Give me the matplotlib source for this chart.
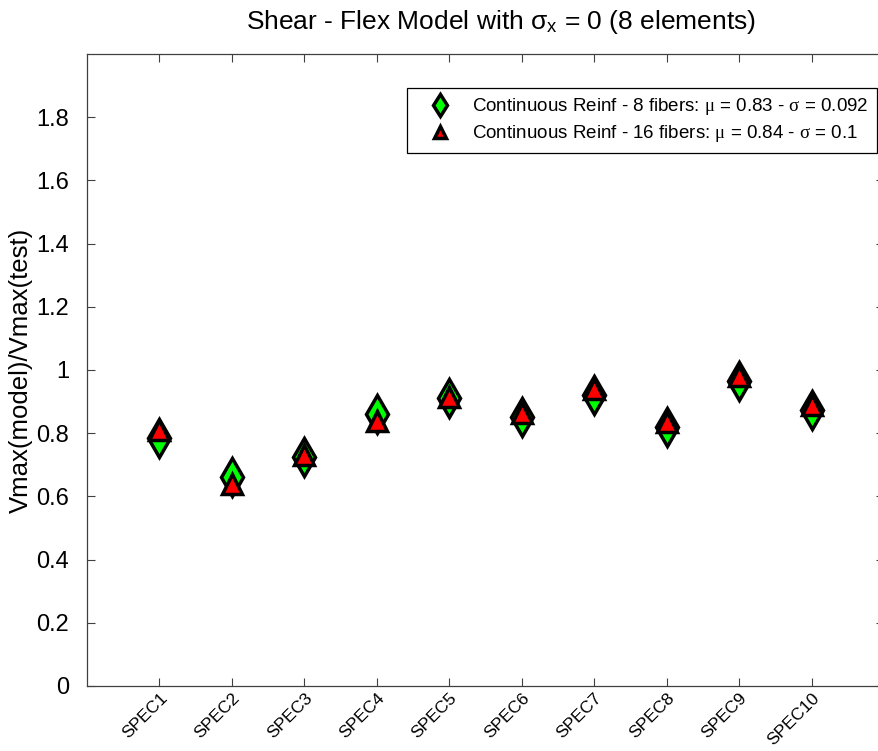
import matplotlib
matplotlib.use("Agg")
import matplotlib.pyplot as plt

plt.rcParams['font.family'] = ['Liberation Sans', 'DejaVu Sans']
plt.rcParams['mathtext.fontset'] = 'custom'
plt.rcParams['mathtext.rm'] = 'Liberation Sans'
plt.rcParams['mathtext.it'] = 'Liberation Serif'

# data
specimens = ['SPEC1', 'SPEC2', 'SPEC3', 'SPEC4', 'SPEC5',
             'SPEC6', 'SPEC7', 'SPEC8', 'SPEC9', 'SPEC10']
ratio_8f = [0.785, 0.66, 0.725, 0.86, 0.91, 0.85, 0.92, 0.82, 0.965, 0.875]
ratio_16f = [0.81, 0.64, 0.73, 0.84, 0.915, 0.865, 0.94, 0.835, 0.98, 0.89]
label_8f = 'Continuous Reinf - 8 fibers: $\\mu$ = 0.83 - $\\sigma$ = 0.092'
label_16f = 'Continuous Reinf - 16 fibers: $\\mu$ = 0.84 - $\\sigma$ = 0.1'
yticks = [0, 0.2, 0.4, 0.6, 0.8, 1, 1.2, 1.4, 1.6, 1.8]
ytick_labels = ['0', '0.2', '0.4', '0.6', '0.8', '1', '1.2', '1.4', '1.6', '1.8']

W, H = 879, 751
fig = plt.figure(figsize=(W / 100, H / 100), dpi=100)
ax = fig.add_axes([87 / W, 65 / H, (884 - 87) / W, (686 - 54) / H])

x = list(range(1, len(specimens) + 1))
ax.plot(x, ratio_8f, linestyle='none', marker='d', markersize=19,
        markerfacecolor=(0, 1, 0), markeredgecolor='k', markeredgewidth=2.5,
        label=label_8f)
ax.plot(x, ratio_16f, linestyle='none', marker='^', markersize=15,
        markerfacecolor=(1, 0, 0), markeredgecolor='k', markeredgewidth=2.5,
        label=label_16f)

ax.set_xlim(0, 11)
ax.set_ylim(0, 2)
ax.set_yticks(yticks)
ax.set_yticklabels(ytick_labels, fontsize=17)
ax.set_xticks(x)
ax.set_xticklabels(specimens, fontsize=12.5, rotation=45, ha='right',
                   va='top', rotation_mode='anchor')

ax.tick_params(direction='in', length=6, width=0.8, color='0.25',
               top=True, right=True)
ax.tick_params(axis='y', pad=13)
ax.tick_params(axis='x', pad=3)
for sp in ax.spines.values():
    sp.set_color('0.25')
    sp.set_linewidth(0.9)

ax.set_ylabel('Vmax(model)/Vmax(test)', fontsize=18.5, labelpad=2)
fig.text(501 / W, 1 - 22 / H, 'Shear - Flex Model with σ$_{\\rm x}$ = 0 (8 elements)',
         fontsize=19, ha='center', va='center')

leg = ax.legend(loc='upper right', bbox_to_anchor=(877 / W, 1 - 88 / H),
                bbox_transform=fig.transFigure, borderaxespad=0,
                fontsize=13.5, markerscale=0.6, fancybox=False, framealpha=1,
                edgecolor='k', handlelength=2.6, handletextpad=0.4,
                borderpad=0.45, labelspacing=0.3)
leg.get_frame().set_linewidth(0.9)

fig.savefig('out.png', dpi=100)
